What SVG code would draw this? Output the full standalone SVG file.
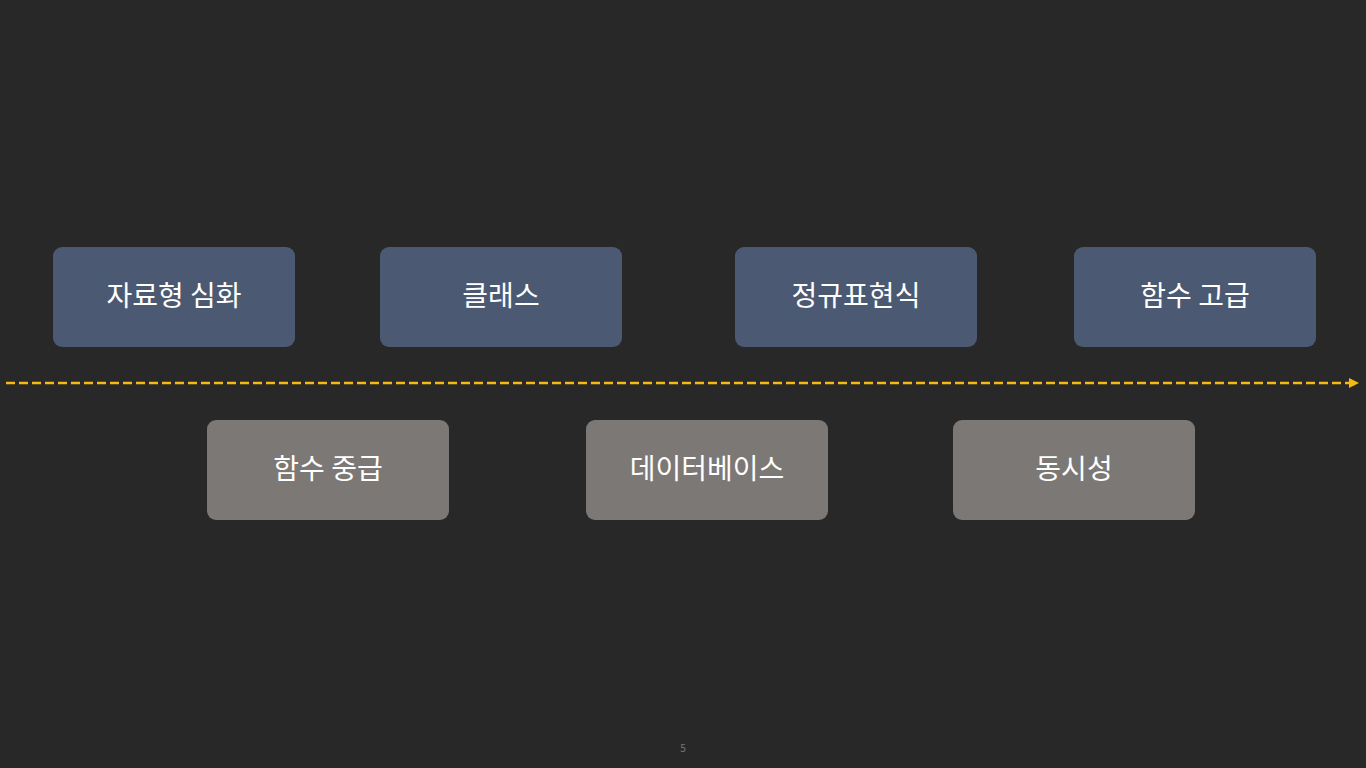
<svg xmlns="http://www.w3.org/2000/svg" width="1366" height="768" viewBox="0 0 1366 768">
<style>
.a{fill:#4b5a72}.b{fill:#7c7875}
text{font-family:"Noto Sans CJK KR",sans-serif;font-size:28px;fill:#fff;text-anchor:middle;dominant-baseline:central}
</style>
<defs><marker id="ar" markerWidth="10" markerHeight="10" refX="9" refY="5" orient="auto" markerUnits="userSpaceOnUse"><path d="M0,0 L10,5 L0,10 Z" fill="#f5b90f"/></marker></defs>
<rect width="1366" height="768" fill="#282828"/>
<g id="connectors"><line x1="6" y1="383" x2="1358" y2="383" stroke="#f5b90f" stroke-width="2.5" stroke-dasharray="9,4" marker-end="url(#ar)"/></g>
<g id="n1"><rect class="a" x="53" y="247" width="242" height="100" rx="9"/><text x="174" y="294">자료형 심화</text></g>
<g id="n2"><rect class="a" x="380" y="247" width="242" height="100" rx="9"/><text x="501" y="294">클래스</text></g>
<g id="n3"><rect class="a" x="735" y="247" width="242" height="100" rx="9"/><text x="856" y="294">정규표현식</text></g>
<g id="n4"><rect class="a" x="1074" y="247" width="242" height="100" rx="9"/><text x="1195" y="294">함수 고급</text></g>
<g id="n5"><rect class="b" x="207" y="420" width="242" height="100" rx="9"/><text x="328" y="467">함수 중급</text></g>
<g id="n6"><rect class="b" x="586" y="420" width="242" height="100" rx="9"/><text x="707" y="467">데이터베이스</text></g>
<g id="n7"><rect class="b" x="953" y="420" width="242" height="100" rx="9"/><text x="1074" y="467">동시성</text></g>
<text x="683" y="747" style="font-size:10px;fill:#777">5</text>
</svg>
